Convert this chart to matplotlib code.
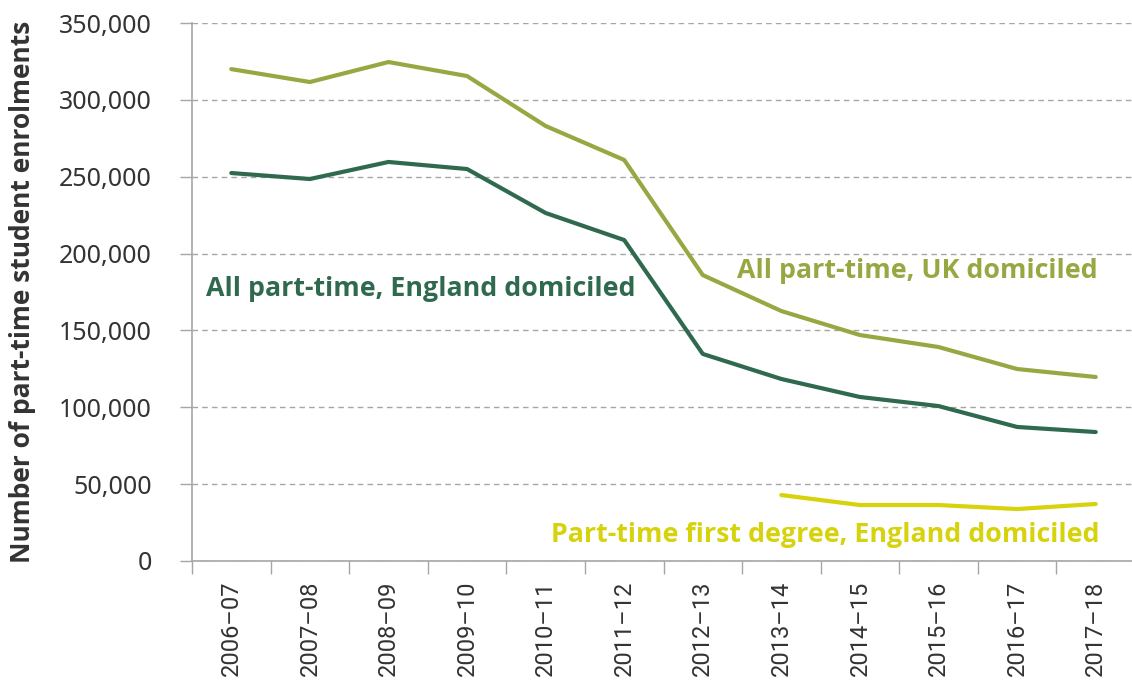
import matplotlib.pyplot as plt
from matplotlib.ticker import FuncFormatter, FixedLocator

# Part-time student enrolments by academic year
years = ["2006–07", "2007–08", "2008–09", "2009–10", "2010–11", "2011–12",
         "2012–13", "2013–14", "2014–15", "2015–16", "2016–17", "2017–18"]
uk_all = [320000, 311600, 324600, 315500, 283000, 260900,
          186000, 162600, 147000, 139200, 124900, 119700]
england_all = [252400, 248500, 259600, 255000, 226400, 208800,
               134700, 118400, 106700, 100800, 87200, 83900]
fd_years = years[7:]
england_first_degree = [42900, 36400, 36400, 33800, 37100]

c_uk = "#97a843"
c_eng = "#2f6a4f"
c_fd = "#d6d20c"
grey = "#a6a6a6"
bold_font = ["Open Sans", "DejaVu Sans"]

plt.rcParams["font.family"] = ["Noto Sans", "DejaVu Sans"]

fig = plt.figure(figsize=(11.32, 6.84), dpi=100)
ax = fig.add_axes([192 / 1132, 123 / 684, 943 / 1132, 538 / 684])

x = list(range(len(years)))
x_fd = [years.index(y) for y in fd_years]
ax.plot(x, uk_all, color=c_uk, lw=3, solid_capstyle="round", zorder=3)
ax.plot(x, england_all, color=c_eng, lw=3, solid_capstyle="round", zorder=3)
ax.plot(x_fd, england_first_degree, color=c_fd, lw=3, solid_capstyle="round", zorder=3)

ax.set_xlim(-0.5, len(years) - 0.5)
ax.set_ylim(0, 350000)
ax.set_yticks(range(0, 350001, 50000))
ax.yaxis.set_major_formatter(FuncFormatter(lambda v, p: f"{int(v):,}"))
ax.grid(axis="y", color=grey, ls=(0, (4, 3)), lw=1)
ax.set_axisbelow(True)

# category labels at centres, tick marks between categories
ax.set_xticks(x)
ax.set_xticklabels(years, rotation=90, fontsize=17, family="Roboto", color="#333333")
ax.xaxis.set_minor_locator(FixedLocator([i - 0.5 for i in range(len(years) + 1)]))
ax.tick_params(axis="x", which="major", length=0, pad=14)
ax.tick_params(axis="x", which="minor", length=9, color=grey, width=1)
ax.tick_params(axis="y", length=9, color=grey, width=1, pad=20, labelsize=18, labelcolor="#333333")

for s in ["top", "right"]:
    ax.spines[s].set_visible(False)
for s in ["left", "bottom"]:
    ax.spines[s].set_color(grey)
    ax.spines[s].set_linewidth(1.2)

ax.set_ylabel("Number of part-time student enrolments", fontsize=19, fontweight="bold",
              family=bold_font, color="#333333")
ax.yaxis.set_label_coords(-0.165, 0.5)

ax.text(-0.32, 177000, "All part-time, England domiciled", color=c_eng,
        fontsize=19.3, fontweight="bold", family=bold_font, va="center", ha="left")
ax.text(6.43, 188700, "All part-time, UK domiciled", color=c_uk,
        fontsize=19.3, fontweight="bold", family=bold_font, va="center", ha="left")
ax.text(11.05, 16900, "Part-time first degree, England domiciled", color=c_fd,
        fontsize=19.3, fontweight="bold", family=bold_font, va="center", ha="right")

fig.savefig("out.png", dpi=100)
